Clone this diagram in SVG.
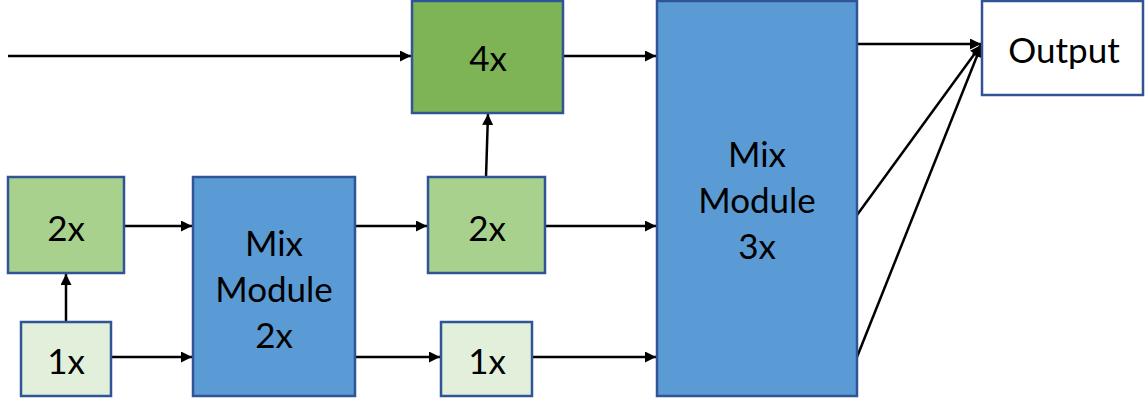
<svg xmlns="http://www.w3.org/2000/svg" width="1146" height="400" viewBox="0 0 1146 400">
  <style>
    .box { stroke: #2f5597; stroke-width: 2.5; }
    .dark { fill: #7eb356; }
    .mid { fill: #a9d18e; }
    .light { fill: #e2efda; }
    .mix { fill: #5b9bd5; }
    .out { fill: #ffffff; }
    .lbl { font-family: Lato, "Open Sans", sans-serif; font-size: 35px; fill: #000; text-anchor: middle; dominant-baseline: central; }
    .wire { stroke: #000; stroke-width: 2.5; fill: none; marker-end: url(#head); }
  </style>
  <defs>
    <marker id="head" viewBox="0 0 10 10" refX="10" refY="5" markerWidth="4.6" markerHeight="4.4" orient="auto" markerUnits="strokeWidth">
      <path d="M0,0 L10,5 L0,10 z" fill="#000"/>
    </marker>
  </defs>
  <rect width="1146" height="400" fill="#fff"/>

  <g id="connectors">
    <line class="wire" x1="8" y1="56" x2="411" y2="56"/>
    <line class="wire" x1="66" y1="322" x2="66" y2="274"/>
    <line class="wire" x1="124" y1="226" x2="192" y2="226"/>
    <line class="wire" x1="111" y1="357" x2="192" y2="357"/>
    <line class="wire" x1="355" y1="226" x2="427" y2="226"/>
    <line class="wire" x1="355" y1="357" x2="440" y2="357"/>
    <line class="wire" x1="486" y1="177" x2="488" y2="114"/>
    <line class="wire" x1="563" y1="56" x2="656" y2="56"/>
    <line class="wire" x1="545" y1="226" x2="656" y2="226"/>
    <line class="wire" x1="532" y1="357" x2="656" y2="357"/>
    <line class="wire" x1="857" y1="44" x2="981" y2="44"/>
    <line class="wire" x1="857" y1="215" x2="981" y2="45"/>
    <line class="wire" x1="857" y1="357" x2="981" y2="46"/>
  </g>

  <g id="up4x">
    <rect class="box dark" x="412" y="1" width="151" height="112"/>
    <text class="lbl" x="488" y="57">4x</text>
  </g>
  <g id="mix3x">
    <rect class="box mix" x="657" y="1" width="200" height="395"/>
    <text class="lbl" x="757" y="153">Mix</text>
    <text class="lbl" x="757" y="199">Module</text>
    <text class="lbl" x="757" y="245">3x</text>
  </g>
  <g id="output">
    <rect class="box out" x="982" y="1" width="161" height="94"/>
    <text class="lbl" x="1064" y="49">Output</text>
  </g>
  <g id="in2x">
    <rect class="box mid" x="8" y="177" width="116" height="96"/>
    <text class="lbl" x="66" y="227">2x</text>
  </g>
  <g id="in1x">
    <rect class="box light" x="21" y="322" width="90" height="74"/>
    <text class="lbl" x="66" y="360">1x</text>
  </g>
  <g id="mix2x">
    <rect class="box mix" x="193" y="177" width="162" height="219"/>
    <text class="lbl" x="274" y="242">Mix</text>
    <text class="lbl" x="274" y="288">Module</text>
    <text class="lbl" x="274" y="334">2x</text>
  </g>
  <g id="mid2x">
    <rect class="box mid" x="428" y="177" width="117" height="96"/>
    <text class="lbl" x="487" y="227">2x</text>
  </g>
  <g id="mid1x">
    <rect class="box light" x="441" y="322" width="91" height="74"/>
    <text class="lbl" x="487" y="360">1x</text>
  </g>
</svg>
